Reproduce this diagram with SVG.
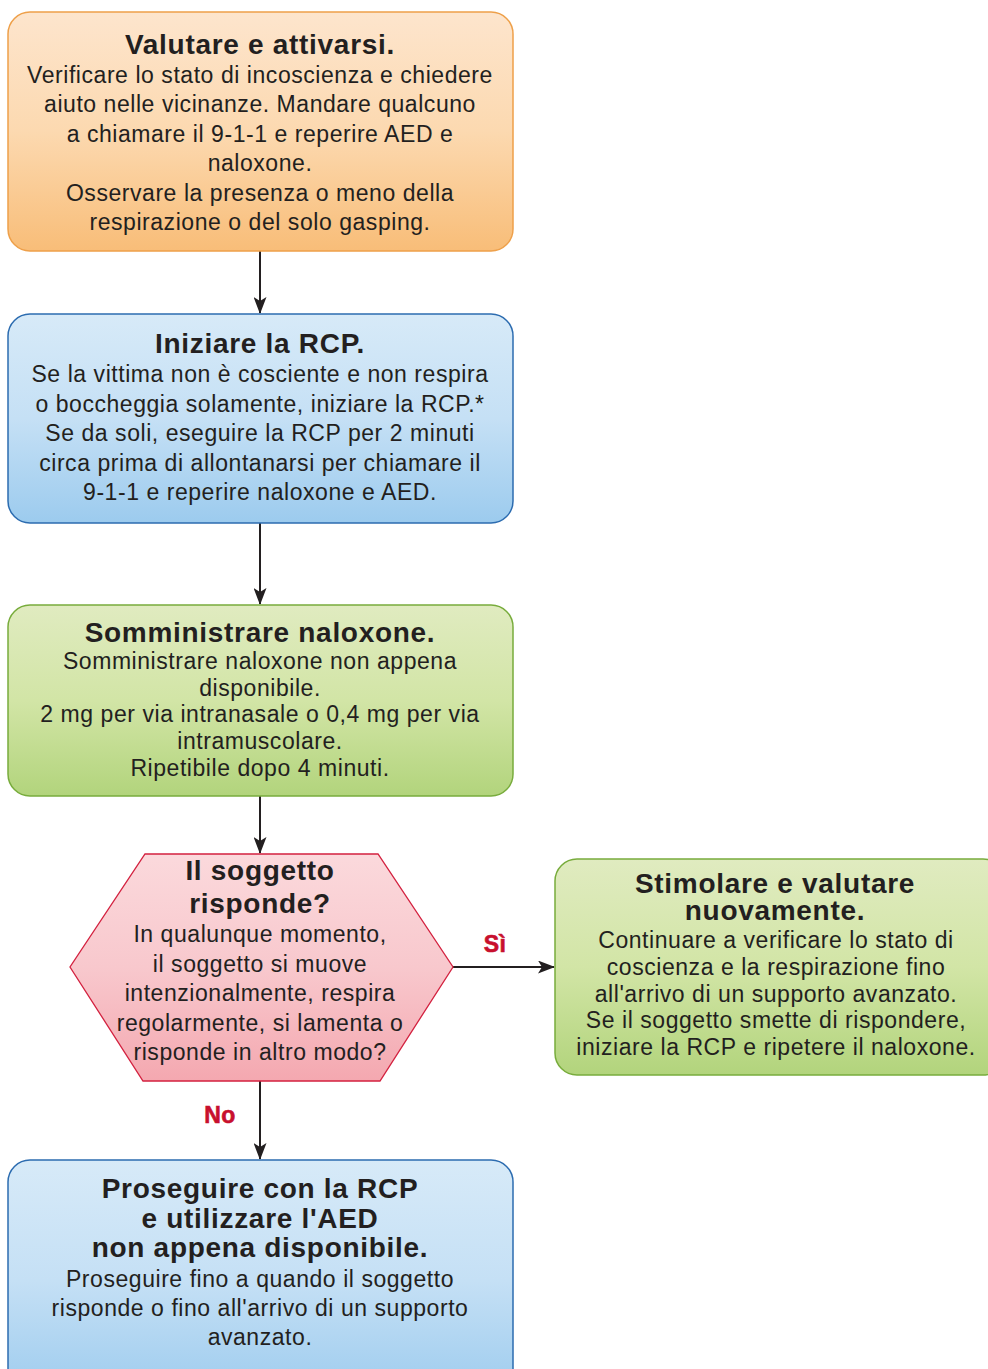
<svg xmlns="http://www.w3.org/2000/svg" width="988" height="1369" viewBox="0 0 988 1369">
  <style>
    text { font-family: "Liberation Sans", Arial, sans-serif; fill: #231f20; text-anchor: middle; }
    .title { font-size: 28px; font-weight: bold; letter-spacing: 0.7px; }
    .body { font-size: 23px; letter-spacing: 0.55px; }
    .lbl { font-size: 23px; font-weight: bold; fill: #c8102e; stroke: #c8102e; stroke-width: 0.6; letter-spacing: 0.5px; }
    .edge { stroke: #231f20; stroke-width: 2; fill: none; }
  </style>
  <defs>
    <linearGradient id="gOrange" x1="0" y1="0" x2="0" y2="1">
      <stop offset="0" stop-color="#fde5cd"/>
      <stop offset="0.5" stop-color="#fcd9b0"/>
      <stop offset="1" stop-color="#f8bd78"/>
    </linearGradient>
    <linearGradient id="gBlue" x1="0" y1="0" x2="0" y2="1">
      <stop offset="0" stop-color="#d7eaf8"/>
      <stop offset="0.5" stop-color="#c5e0f5"/>
      <stop offset="1" stop-color="#9ccbee"/>
    </linearGradient>
    <linearGradient id="gGreen" x1="0" y1="0" x2="0" y2="1">
      <stop offset="0" stop-color="#e0ebc0"/>
      <stop offset="0.5" stop-color="#d2e5a6"/>
      <stop offset="1" stop-color="#b2d47c"/>
    </linearGradient>
    <linearGradient id="gPink" x1="0" y1="0" x2="0" y2="1">
      <stop offset="0" stop-color="#fbd9dc"/>
      <stop offset="0.5" stop-color="#f8c8cd"/>
      <stop offset="1" stop-color="#f4a8b0"/>
    </linearGradient>
    <!-- notched arrowhead -->
    <marker id="arrow" viewBox="0 0 17 13" refX="16" refY="6.5" markerWidth="17" markerHeight="13" markerUnits="userSpaceOnUse" orient="auto">
      <path d="M0,0 L17,6.5 L0,13 L4,6.5 Z" fill="#231f20"/>
    </marker>
  </defs>

  <!-- connectors -->
  <g id="connectors">
    <line class="edge" x1="260" y1="251" x2="260" y2="313" marker-end="url(#arrow)"/>
    <line class="edge" x1="260" y1="523" x2="260" y2="604" marker-end="url(#arrow)"/>
    <line class="edge" x1="260" y1="796" x2="260" y2="853" marker-end="url(#arrow)"/>
    <line class="edge" x1="453" y1="967" x2="554" y2="967" marker-end="url(#arrow)"/>
    <line class="edge" x1="260" y1="1081" x2="260" y2="1159" marker-end="url(#arrow)"/>
    <text class="lbl" x="495" y="952">Sì</text>
    <text class="lbl" x="220" y="1123">No</text>
  </g>

  <!-- step 1 -->
  <g id="valutare">
    <rect x="8" y="12" width="505" height="239" rx="22" fill="url(#gOrange)" stroke="#eea04a" stroke-width="1.5"/>
    <text class="title" x="260" y="54">Valutare e attivarsi.</text>
    <text class="body" x="260" y="83">Verificare lo stato di incoscienza e chiedere</text>
    <text class="body" x="260" y="112">aiuto nelle vicinanze. Mandare qualcuno</text>
    <text class="body" x="260" y="142">a chiamare il 9-1-1 e reperire AED e</text>
    <text class="body" x="260" y="171">naloxone.</text>
    <text class="body" x="260" y="201">Osservare la presenza o meno della</text>
    <text class="body" x="260" y="230">respirazione o del solo gasping.</text>
  </g>

  <!-- step 2 -->
  <g id="iniziare-rcp">
    <rect x="8" y="314" width="505" height="209" rx="22" fill="url(#gBlue)" stroke="#2c6cb0" stroke-width="1.5"/>
    <text class="title" x="260" y="353">Iniziare la RCP.</text>
    <text class="body" x="260" y="382">Se la vittima non è cosciente e non respira</text>
    <text class="body" x="260" y="412">o boccheggia solamente, iniziare la RCP.*</text>
    <text class="body" x="260" y="441">Se da soli, eseguire la RCP per 2 minuti</text>
    <text class="body" x="260" y="471">circa prima di allontanarsi per chiamare il</text>
    <text class="body" x="260" y="500">9-1-1 e reperire naloxone e AED.</text>
  </g>

  <!-- step 3 -->
  <g id="naloxone">
    <rect x="8" y="605" width="505" height="191" rx="22" fill="url(#gGreen)" stroke="#78ac3c" stroke-width="1.5"/>
    <text class="title" x="260" y="642">Somministrare naloxone.</text>
    <text class="body" x="260" y="669">Somministrare naloxone non appena</text>
    <text class="body" x="260" y="696">disponibile.</text>
    <text class="body" x="260" y="722">2 mg per via intranasale o 0,4 mg per via</text>
    <text class="body" x="260" y="749">intramuscolare.</text>
    <text class="body" x="260" y="776">Ripetibile dopo 4 minuti.</text>
  </g>

  <!-- decision -->
  <g id="risponde">
    <polygon points="145,854 378,854 453,967 380,1081 143,1081 70,967" fill="url(#gPink)" stroke="#d3213f" stroke-width="1.3"/>
    <text class="title" x="260" y="880">Il soggetto</text>
    <text class="title" x="260" y="913">risponde?</text>
    <text class="body" x="260" y="942">In qualunque momento,</text>
    <text class="body" x="260" y="972">il soggetto si muove</text>
    <text class="body" x="260" y="1001">intenzionalmente, respira</text>
    <text class="body" x="260" y="1031">regolarmente, si lamenta o</text>
    <text class="body" x="260" y="1060">risponde in altro modo?</text>
  </g>

  <!-- yes branch -->
  <g id="stimolare">
    <rect x="555" y="859" width="450" height="216" rx="22" fill="url(#gGreen)" stroke="#78ac3c" stroke-width="1.5"/>
    <text class="title" x="775" y="893">Stimolare e valutare</text>
    <text class="title" x="775" y="920">nuovamente.</text>
    <text class="body" x="776" y="948">Continuare a verificare lo stato di</text>
    <text class="body" x="776" y="975">coscienza e la respirazione fino</text>
    <text class="body" x="776" y="1002">all'arrivo di un supporto avanzato.</text>
    <text class="body" x="776" y="1028">Se il soggetto smette di rispondere,</text>
    <text class="body" x="776" y="1055">iniziare la RCP e ripetere il naloxone.</text>
  </g>

  <!-- no branch -->
  <g id="proseguire">
    <rect x="8" y="1160" width="505" height="240" rx="22" fill="url(#gBlue)" stroke="#2c6cb0" stroke-width="1.5"/>
    <text class="title" x="260" y="1198">Proseguire con la RCP</text>
    <text class="title" x="260" y="1228">e utilizzare l'AED</text>
    <text class="title" x="260" y="1257">non appena disponibile.</text>
    <text class="body" x="260" y="1287">Proseguire fino a quando il soggetto</text>
    <text class="body" x="260" y="1316">risponde o fino all'arrivo di un supporto</text>
    <text class="body" x="260" y="1345">avanzato.</text>
  </g>
</svg>
